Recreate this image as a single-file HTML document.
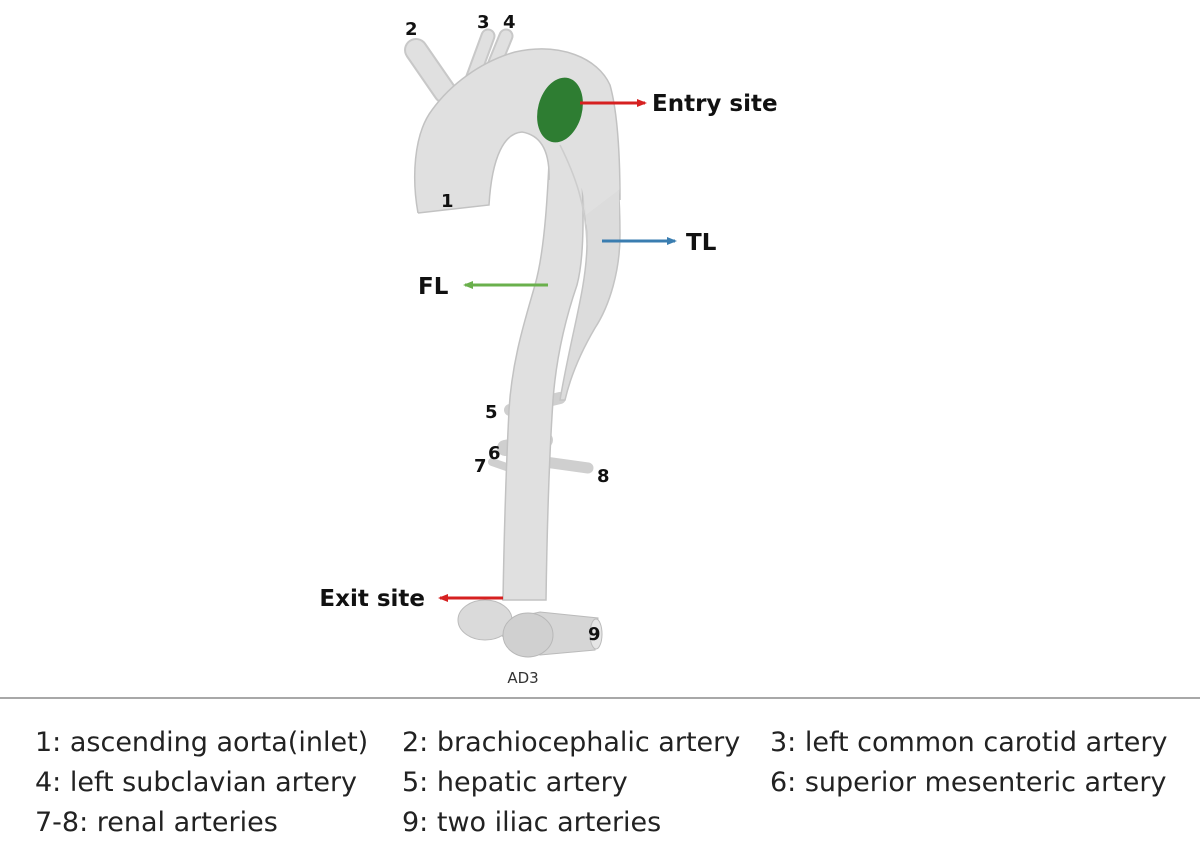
<!DOCTYPE html>
<html><head><meta charset="utf-8"><style>
html,body{margin:0;padding:0;background:#fff;}
body{width:1200px;height:846px;position:relative;overflow:hidden;font-family:"DejaVu Sans",sans-serif;}
.lg{position:absolute;font-size:27px;color:#222;white-space:nowrap;}
</style></head><body>
<svg width="1200" height="846" style="position:absolute;left:0;top:0" font-family="DejaVu Sans, sans-serif">
<defs>
<marker id="r" markerUnits="userSpaceOnUse" markerWidth="10" markerHeight="10" refX="8" refY="5" orient="auto"><path d="M0,1 L10,5 L0,9 z" fill="#d62020"/></marker>
<marker id="b" markerUnits="userSpaceOnUse" markerWidth="10" markerHeight="10" refX="8" refY="5" orient="auto"><path d="M0,1 L10,5 L0,9 z" fill="#3a7db0"/></marker>
<marker id="g" markerUnits="userSpaceOnUse" markerWidth="10" markerHeight="10" refX="8" refY="5" orient="auto"><path d="M0,1 L10,5 L0,9 z" fill="#6ab04c"/></marker>
</defs>
<g stroke-linecap="round" fill="none">
<path d="M445,92 L416,50" stroke="#c8c8c8" stroke-width="24"/>
<path d="M445,92 L416,50" stroke="#e0e0e0" stroke-width="20"/>
<path d="M470,85 L488,36" stroke="#c8c8c8" stroke-width="15"/>
<path d="M470,85 L488,36" stroke="#e0e0e0" stroke-width="11"/>
<path d="M486,85 L506,36" stroke="#c8c8c8" stroke-width="15"/>
<path d="M486,85 L506,36" stroke="#e0e0e0" stroke-width="11"/>
<path d="M510,410 L560,398" stroke="#cfcfcf" stroke-width="12"/>
<path d="M505,448 L545,440" stroke="#cfcfcf" stroke-width="16"/>
<path d="M545,462 L588,468" stroke="#cfcfcf" stroke-width="11"/>
<path d="M492,462 L515,470" stroke="#cfcfcf" stroke-width="8"/>
</g>
<!-- TL tube -->
<path d="M560,140 C575,180 588,210 587,245 C586,290 572,330 560,400 L565,400 C572,370 585,345 595,328 C610,305 620,270 620,235 C620,200 618,170 612,140 Z" fill="#dcdcdc" stroke="#c4c4c4" stroke-width="1.5"/>
<!-- FL tube -->
<path d="M550,140 C548,190 545,250 535,285 C525,320 512,360 509,410 C506,470 504,540 503,600 L546,600 C547,530 549,460 553,400 C556,360 565,320 577,285 C585,255 584,200 580,150 Z" fill="#e0e0e0" stroke="#c2c2c2" stroke-width="1.5"/>
<!-- arch fill -->
<path d="M418,213 C412,180 413,135 432,110 C450,85 480,62 515,52 C560,42 598,58 610,85 C617,110 620,150 619,190 L586,215 C584,185 575,165 560,150 L549,175 C550,150 540,135 522,132 C505,133 492,155 489,205 Z" fill="#e0e0e0"/>
<path d="M586,215 L619,190 L619,230 C610,220 595,218 586,225 Z" fill="#dcdcdc"/>
<path d="M418,213 C412,180 413,135 432,110 C450,85 480,62 515,52 C560,42 598,58 610,85 C617,110 620,150 620,200" fill="none" stroke="#c2c2c2" stroke-width="1.5"/>
<path d="M418,213 L489,205 C492,155 505,133 522,132 C540,135 550,150 549,180" fill="none" stroke="#c2c2c2" stroke-width="1.5"/>
<path d="M560,145 C575,175 586,205 587,245" fill="none" stroke="#cdcdcd" stroke-width="1.5"/>
<path d="M480,625 L540,655 L595,650 L598,618 L540,612 Z" fill="#d6d6d6" stroke="#bbb"/>
<ellipse cx="485" cy="620" rx="27" ry="20" fill="#dadada" stroke="#bbb"/>
<ellipse cx="528" cy="635" rx="25" ry="22" fill="#d0d0d0" stroke="#b8b8b8"/>
<ellipse cx="596" cy="634" rx="6" ry="15" fill="#e6e6e6" stroke="#bbb"/>
<ellipse cx="560" cy="110" rx="22" ry="33" transform="rotate(15 560 110)" fill="#2e7d32"/>
<line x1="580" y1="103" x2="645" y2="103" stroke="#d62020" stroke-width="3" marker-end="url(#r)"/>
<line x1="602" y1="241" x2="675" y2="241" stroke="#3a7db0" stroke-width="3" marker-end="url(#b)"/>
<line x1="548" y1="285" x2="465" y2="285" stroke="#6ab04c" stroke-width="3" marker-end="url(#g)"/>
<line x1="503" y1="598" x2="440" y2="598" stroke="#d62020" stroke-width="3" marker-end="url(#r)"/>
<g font-weight="bold" fill="#111" font-size="23">
<text x="652" y="111">Entry site</text>
<text x="686" y="250">TL</text>
<text x="418" y="294">FL</text>
<text x="425" y="606" text-anchor="end">Exit site</text>
</g>
<g font-weight="bold" fill="#111" font-size="18">
<text x="405" y="35">2</text><text x="477" y="28">3</text><text x="503" y="28">4</text>
<text x="441" y="207">1</text><text x="485" y="418">5</text><text x="488" y="459">6</text>
<text x="474" y="472">7</text><text x="597" y="482">8</text><text x="588" y="640">9</text>
</g>
<text x="523" y="683" font-size="15" fill="#333" text-anchor="middle">AD3</text>
<line x1="0" y1="698" x2="1200" y2="698" stroke="#a8a8a8" stroke-width="2"/>
</svg>
<div class="lg" style="left:35px;top:727px">1: ascending aorta(inlet)</div>
<div class="lg" style="left:402px;top:727px">2: brachiocephalic artery</div>
<div class="lg" style="left:770px;top:727px">3: left common carotid artery</div>
<div class="lg" style="left:35px;top:767px">4: left subclavian artery</div>
<div class="lg" style="left:402px;top:767px">5: hepatic artery</div>
<div class="lg" style="left:770px;top:767px">6: superior mesenteric artery</div>
<div class="lg" style="left:35px;top:807px">7-8: renal arteries</div>
<div class="lg" style="left:402px;top:807px">9: two iliac arteries</div>
</body></html>
